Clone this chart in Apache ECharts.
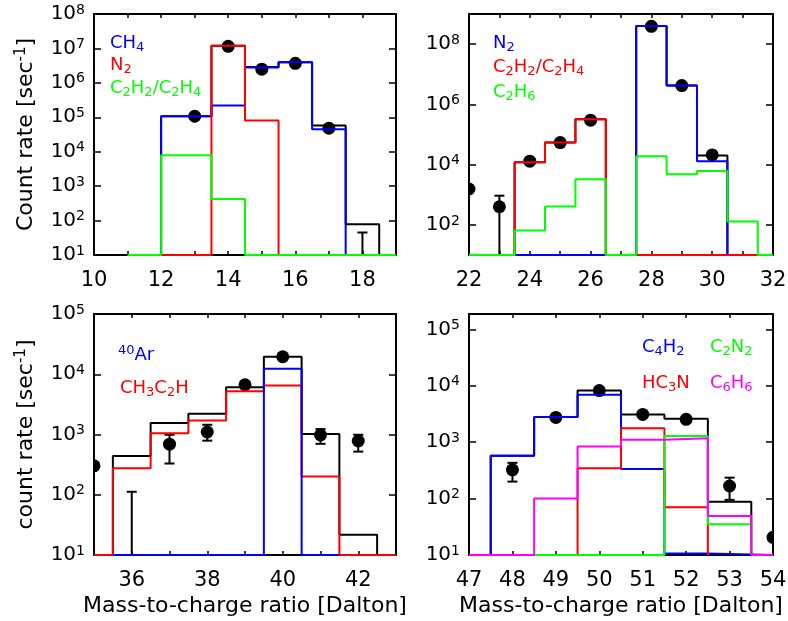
<!DOCTYPE html>
<html><head><meta charset="utf-8">
<script src="https://cdn.jsdelivr.net/npm/echarts@6/dist/echarts.min.js"></script>
<style>html,body{margin:0;padding:0;background:#fff}#c{width:788px;height:621px}</style>
</head><body><div id="c"></div><script>
// ---------- DATA ----------
const FLOOR = 10; // bottom of every log axis (values at the floor run along the axis)

// Panel 1 : m/z 10-19
const p1TotEdges = [11, 12, 13.5, 14.5, 15.5, 16.5, 17.5, 18.5, 19];
const p1Tot      = [10, 1.07e5, 1.2e7, 2.9e6, 4.0e6, 5.8e4, 78, 10];
const p1CH4Edges = [11, 12, 13.5, 14.5, 15.5, 16.5, 17.5, 19];
const p1CH4      = [10, 1.07e5, 2.2e5, 2.8e6, 4.0e6, 4.5e4, 10];
const p1N2Edges  = [11, 13.5, 14.5, 15.5, 19];
const p1N2       = [10, 1.2e7, 8.0e4, 10];
const p1C2Edges  = [11, 12, 13.5, 14.5, 19];
const p1C2       = [10, 7.9e3, 420, 10];
const p1PtX  = [13, 14, 15, 16, 17, 18];
const p1PtY  = [1.07e5, 1.15e7, 2.5e6, 3.7e6, 4.8e4, 4];
const p1PtLo = [0, 0, 0, 0, 0, 1];
const p1PtHi = [0, 0, 0, 0, 0, 45];

// Panel 2 : m/z 22-32
const p2TotEdges = [22, 23.5, 24.5, 25.5, 26.5, 27.5, 28.5, 29.5, 30.5, 32];
const p2Tot      = [10, 1.2e4, 5.4e4, 3.2e5, 10, 4.0e8, 4.2e6, 2.0e4, 10];
const p2N2Edges  = [22, 27.5, 28.5, 29.5, 30.5, 32];
const p2N2       = [10, 4.0e8, 4.2e6, 1.3e4, 10];
const p2C2Edges  = [22, 23.5, 24.5, 25.5, 26.5, 32];
const p2C2       = [10, 1.2e4, 5.4e4, 3.2e5, 10];
const p2C2H6Edges = [22, 23.5, 24.5, 25.5, 26.5, 27.5, 28.5, 29.5, 30.5, 31.5, 32];
const p2C2H6      = [10, 65, 410, 3.3e3, 10, 1.9e4, 4.8e3, 6.1e3, 130, 10];
const p2PtX  = [22, 23, 24, 25, 26, 28, 29, 30];
const p2PtY  = [1.55e3, 400, 1.3e4, 5.4e4, 3.0e5, 3.9e8, 4.2e6, 2.1e4];
const p2PtLo = [0, 1, 0, 0, 0, 0, 0, 0];
const p2PtHi = [0, 930, 0, 0, 0, 0, 0, 0];

// Panel 3 : m/z 35-43
const p3TotEdges = [35, 35.5, 36.5, 37.5, 38.5, 39.5, 40.5, 41.5, 42.5, 43];
const p3Tot      = [10, 440, 1.55e3, 2.2e3, 6.1e3, 1.95e4, 1.02e3, 21.6, 10];
const p3PropEdges = [35, 35.5, 36.5, 37.5, 38.5, 39.5, 40.5, 41.5, 43];
const p3Prop      = [10, 275, 1.05e3, 1.7e3, 5.2e3, 6.5e3, 200, 10];
const p3ArEdges  = [35.5, 39.5, 40.5, 41.5];
const p3Ar       = [10, 1.23e4, 10];
const p3PtX  = [35, 36, 37, 38, 39, 40, 41, 42];
const p3PtY  = [302, 5, 690, 1.1e3, 6.7e3, 1.95e4, 980, 780];
const p3PtLo = [0, 1, 330, 790, 0, 0, 700, 520];
const p3PtHi = [0, 112, 990, 1.45e3, 0, 0, 1.23e3, 990];

// Panel 4 : m/z 47-54
const p4TotEdges = [47, 47.5, 48.5, 49.5, 50.5, 51.5, 52.5, 53.5, 54];
const p4Tot      = [10, 575, 2.8e3, 8.2e3, 3.1e3, 2.6e3, 88, 10];
const p4C4H2Edges = [47, 47.5, 48.5, 49.5, 50.5, 51.5, 52.5, 54];
const p4C4H2      = [10, 575, 2.8e3, 6.9e3, 333, 10.6, 10];
const p4HC3NEdges = [47, 49.5, 50.5, 51.5, 52.5];
const p4HC3N      = [10, 345, 1.76e3, 70];
const p4C2N2Edges = [47, 51.5, 52.5, 53.5];
const p4C2N2      = [10, 1.28e3, 35];
const p4C6H6Edges = [47, 48.5, 49.5, 50.5, 51.5, 52.5, 53.5, 54];
const p4C6H6      = [10, 100, 835, 1.1e3, 1.17e3, 49, 10];
const p4PtX  = [48, 49, 50, 51, 52, 53, 54];
const p4PtY  = [324, 2.75e3, 8.2e3, 3.1e3, 2.54e3, 167, 20.6];
const p4PtLo = [200, 0, 0, 0, 0, 95, 0];
const p4PtHi = [430, 0, 0, 0, 0, 235, 0];

// axis ranges
const p1XRange = [10, 19], p1YRange = [10, 1e8];
const p2XRange = [22, 32], p2YRange = [10, 1e9];
const p3XRange = [35, 43], p3YRange = [10, 1e5];
const p4XRange = [47, 54], p4YRange = [10, 1.87e5];

// texts
const yTitleTop = 'Count rate [sec{s|-1}]';
const yTitleBottom = 'count rate [sec{s|-1}]';
const xTitle = 'Mass-to-charge ratio [Dalton]';

// ---------- STYLE / LAYOUT ----------
const FONT = 'DejaVu Sans';
const BLACK = '#000000', BLUE = '#0000ff', RED = '#ff0000', GREEN = '#00ff00', MAGENTA = '#ff00ff';

function steps(edges, vals) {
  const pts = [[edges[0], FLOOR]];
  for (let i = 0; i < vals.length; i++) {
    pts.push([edges[i], vals[i]]);
    pts.push([edges[i + 1], vals[i]]);
  }
  pts.push([edges[edges.length - 1], FLOOR]);
  return pts;
}

const panels = [
  { grid: {left: 94, top: 14, width: 302, height: 241}, x: p1XRange, y: p1YRange, base: 10, xEvery: 2, evenOnly: false,
    yName: yTitleTop, xName: '',
    hist: [[p1TotEdges, p1Tot, BLACK], [p1CH4Edges, p1CH4, BLUE], [p1N2Edges, p1N2, RED], [p1C2Edges, p1C2, GREEN]],
    pts: [p1PtX, p1PtY, p1PtLo, p1PtHi],
    legend: [['CH{d|4}', BLUE, 110, 43], ['N{d|2}', RED, 110, 65], ['C{d|2}H{d|2}/C{d|2}H{d|4}', GREEN, 110, 88]] },
  { grid: {left: 469, top: 14, width: 304, height: 241}, x: p2XRange, y: p2YRange, base: 100, xEvery: 2, evenOnly: true,
    yName: '', xName: '',
    hist: [[p2TotEdges, p2Tot, BLACK], [p2N2Edges, p2N2, BLUE], [p2C2Edges, p2C2, RED], [p2C2H6Edges, p2C2H6, GREEN]],
    pts: [p2PtX, p2PtY, p2PtLo, p2PtHi],
    legend: [['N{d|2}', BLUE, 493, 43], ['C{d|2}H{d|2}/C{d|2}H{d|4}', RED, 493, 67], ['C{d|2}H{d|6}', GREEN, 493, 92]] },
  { grid: {left: 94, top: 314, width: 302, height: 241}, x: p3XRange, y: p3YRange, base: 10, xEvery: 2, evenOnly: false,
    yName: yTitleBottom, xName: xTitle,
    hist: [[p3TotEdges, p3Tot, BLACK], [p3PropEdges, p3Prop, RED], [p3ArEdges, p3Ar, BLUE]],
    pts: [p3PtX, p3PtY, p3PtLo, p3PtHi],
    legend: [['{u|40}Ar', BLUE, 118, 355], ['CH{d|3}C{d|2}H', RED, 120, 388]] },
  { grid: {left: 469, top: 314, width: 304, height: 241}, x: p4XRange, y: p4YRange, base: 10, xEvery: 1, evenOnly: false,
    yName: '', xName: xTitle,
    hist: [[p4TotEdges, p4Tot, BLACK], [p4C4H2Edges, p4C4H2, BLUE], [p4HC3NEdges, p4HC3N, RED], [p4C2N2Edges, p4C2N2, GREEN], [p4C6H6Edges, p4C6H6, MAGENTA]],
    pts: [p4PtX, p4PtY, p4PtLo, p4PtHi],
    legend: [['C{d|4}H{d|2}', BLUE, 642, 347], ['C{d|2}N{d|2}', GREEN, 710, 347], ['HC{d|3}N', RED, 642, 383], ['C{d|6}H{d|6}', MAGENTA, 710, 383]] }
];

const option = { animation: false, backgroundColor: '#ffffff', grid: [], xAxis: [], yAxis: [], series: [], graphic: [] };

panels.forEach((p, i) => {
  option.grid.push(Object.assign({ show: false, containLabel: false, outerBoundsMode: 'none' }, p.grid));
  const axLine = { show: true, onZero: false, lineStyle: { color: BLACK, width: 2 } };
  const xBase = { type: 'value', gridIndex: i, min: p.x[0], max: p.x[1], interval: 1,
    splitLine: { show: false }, axisLine: axLine,
    axisTick: { show: true, inside: true, length: 4, lineStyle: { color: BLACK, width: 1.5 } } };
  option.xAxis.push(Object.assign({}, xBase, { position: 'bottom',
    axisLabel: { show: true, margin: 15, color: BLACK, fontFamily: FONT, fontSize: 21,
      formatter: v => (Math.round(v) % p.xEvery === 0) ? String(v) : '' },
    name: p.xName, nameLocation: 'middle', nameGap: 40,
    nameTextStyle: { color: BLACK, fontFamily: FONT, fontSize: 22 } }));
  option.xAxis.push(Object.assign({}, xBase, { position: 'top', axisLabel: { show: false } }));
  const yBase = { type: 'log', logBase: p.base, gridIndex: i, min: p.y[0], max: p.y[1],
    splitLine: { show: false }, minorTick: { show: false }, axisLine: axLine,
    axisTick: { show: true, inside: true, length: 7, lineStyle: { color: BLACK, width: 1.5 } } };
  option.yAxis.push(Object.assign({}, yBase, { position: 'left',
    axisLabel: { show: true, margin: 9, color: BLACK, fontFamily: FONT, fontSize: 20, lineHeight: 22,
      rich: { s: { fontSize: 14, fontFamily: FONT, color: BLACK, verticalAlign: 'top', lineHeight: 10 } },
      formatter: v => {
        const l = Math.log10(v), e = Math.round(l);
        if (Math.abs(l - e) > 0.02) return '';
        if (p.evenOnly && e % 2 !== 0) return '';
        return '10{s|' + e + '}';
      } },
    name: p.yName, nameLocation: 'middle', nameGap: 56,
    nameTextStyle: { color: BLACK, fontFamily: FONT, fontSize: 22, lineHeight: 24,
      rich: { s: { fontSize: 15, fontFamily: FONT, color: BLACK, verticalAlign: 'top', lineHeight: 10 } } } }));
  option.yAxis.push(Object.assign({}, yBase, { position: 'right', axisLabel: { show: false } }));

  p.hist.forEach(h => {
    option.series.push({ type: 'line', xAxisIndex: 2 * i, yAxisIndex: 2 * i, data: steps(h[0], h[1]),
      showSymbol: false, symbol: 'none', clip: true, silent: true,
      lineStyle: { color: h[2], width: 2 }, itemStyle: { color: h[2] } });
  });

  const [px, py, plo, phi] = p.pts;
  option.series.push({ type: 'custom', xAxisIndex: 2 * i, yAxisIndex: 2 * i, clip: true, silent: true,
    encode: { x: 0, y: 1 },
    data: px.map((xx, k) => [xx, py[k], plo[k], phi[k]]),
    renderItem: (params, api) => {
      const x = api.value(0), y = api.value(1), lo = api.value(2), hi = api.value(3);
      const c = api.coord([x, y]);
      const ch = [];
      const st = { stroke: BLACK, lineWidth: 2 };
      if (lo > 0 && hi > 0) {
        const a = api.coord([x, lo]), b = api.coord([x, hi]);
        ch.push({ type: 'line', shape: { x1: a[0], y1: a[1], x2: b[0], y2: b[1] }, style: st });
        ch.push({ type: 'line', shape: { x1: a[0] - 5, y1: a[1], x2: a[0] + 5, y2: a[1] }, style: st });
        ch.push({ type: 'line', shape: { x1: b[0] - 5, y1: b[1], x2: b[0] + 5, y2: b[1] }, style: st });
      }
      ch.push({ type: 'circle', shape: { cx: c[0], cy: c[1], r: 6.5 }, style: { fill: BLACK } });
      return { type: 'group', children: ch };
    } });

  p.legend.forEach(l => {
    option.graphic.push({ type: 'text', x: l[2], y: l[3], silent: true,
      style: { text: l[0], fill: l[1], fontFamily: FONT, fontSize: 18, lineHeight: 22, align: 'left', verticalAlign: 'middle',
        rich: { d: { fontSize: 13, fontFamily: FONT, fill: l[1], verticalAlign: 'bottom', lineHeight: 8 },
                u: { fontSize: 13, fontFamily: FONT, fill: l[1], verticalAlign: 'top', lineHeight: 8 } } } });
  });
});

const chart = echarts.init(document.getElementById('c'), null, { renderer: 'canvas', width: 788, height: 621 });
chart.setOption(option);
</script></body></html>
